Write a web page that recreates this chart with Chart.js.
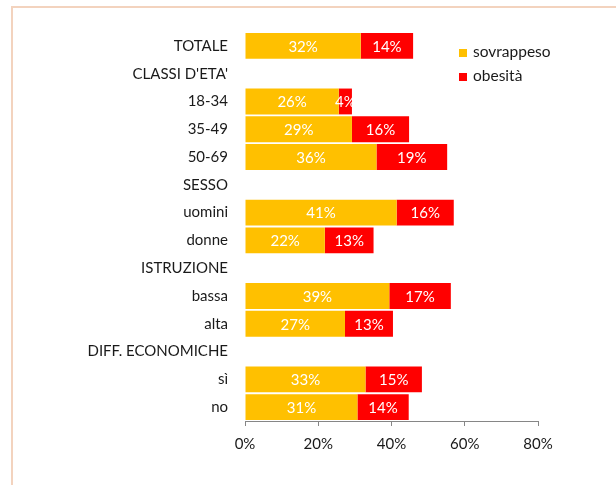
<!DOCTYPE html>
<html>
<head>
<meta charset="utf-8">
<script src="https://cdn.jsdelivr.net/npm/chart.js@4"></script>
<style>
  body { margin: 0; width: 616px; height: 485px; overflow: hidden; background: #fff; font-family: Lato, sans-serif; }
  .frame { position: absolute; left: 11px; top: 6px; width: 700px; height: 600px; border-left: 2px solid #f3d3be; border-top: 2px solid #f3d3be; }
  #chart { position: absolute; left: 0; top: 0; }
  .legend { position: absolute; left: 459px; top: 40px; font-size: 15.5px; color: #1a1a1a; }
  .legend div { height: 23.5px; line-height: 23px; white-space: nowrap; }
  .legend span { display: inline-block; width: 8px; height: 8px; margin-right: 6px; vertical-align: 0px; }
</style>
</head>
<body>
<div class="frame"></div>
<canvas id="chart" width="616" height="485"></canvas>
<div class="legend">
  <div><span style="background:#ffc000"></span>sovrappeso</div>
  <div><span style="background:#ff0000"></span>obesità</div>
</div>
<script>
const categories = [
  "TOTALE",
  "CLASSI D'ETA'",
  "18-34",
  "35-49",
  "50-69",
  "SESSO",
  "uomini",
  "donne",
  "ISTRUZIONE",
  "bassa",
  "alta",
  "DIFF. ECONOMICHE",
  "sì",
  "no",
];

// valori in %, le righe di intestazione restano vuote
const sovrappeso = [31.6, null, 25.6, 29.2, 35.9, null, 41.4, 21.8, null, 39.4, 27.3, null, 32.9, 30.7];
const obesita = [14.3, null, 3.6, 15.6, 19.3, null, 15.6, 13.3, null, 16.8, 13.1, null, 15.4, 14.0];

const xTicks = [0, 20, 40, 60, 80];

const barLabels = {
  id: "barLabels",
  afterDatasetsDraw(chart) {
    const ctx = chart.ctx;
    ctx.save();
    ctx.font = "15px Lato";
    ctx.fillStyle = "#ffffff";
    ctx.textAlign = "center";
    ctx.textBaseline = "middle";
    chart.data.datasets.forEach((ds, i) => {
      chart.getDatasetMeta(i).data.forEach((bar, j) => {
        const v = ds.data[j];
        if (v == null) return;
        ctx.fillText(Math.round(v) + "%", (bar.x + bar.base) / 2, bar.y + 1);
      });
    });
    ctx.restore();
  },
};

Chart.defaults.font.family = "Lato";
Chart.defaults.font.size = 15;
Chart.defaults.color = "#1a1a1a";

new Chart(document.getElementById("chart"), {
  type: "bar",
  data: {
    labels: categories,
    datasets: [
      { label: "sovrappeso", data: sovrappeso, backgroundColor: "#ffc000" },
      { label: "obesità", data: obesita, backgroundColor: "#ff0000" },
    ],
  },
  options: {
    indexAxis: "y",
    responsive: false,
    animation: false,
    devicePixelRatio: 1,
    barPercentage: 0.93,
    categoryPercentage: 1,
    layout: { padding: { left: 0, top: 32, right: 78, bottom: 0 } },
    plugins: { legend: { display: false }, tooltip: { enabled: false } },
    scales: {
      x: {
        stacked: true,
        min: 0,
        max: 80,
        afterBuildTicks: (scale) => {
          scale.ticks = xTicks.map((v) => ({ value: v }));
        },
        afterFit: (scale) => {
          scale.height = 64;
        },
        grid: { drawOnChartArea: false, drawTicks: true, tickLength: 5, color: "#868686" },
        border: { color: "#868686" },
        ticks: { padding: 9, color: "#1a1a1a", callback: (v) => v + "%" },
      },
      y: {
        stacked: true,
        afterFit: (scale) => {
          scale.width = 245;
        },
        grid: { display: false },
        border: { display: false },
        ticks: { padding: 9, color: "#1a1a1a", autoSkip: false },
      },
    },
  },
  plugins: [barLabels],
});
</script>
</body>
</html>
